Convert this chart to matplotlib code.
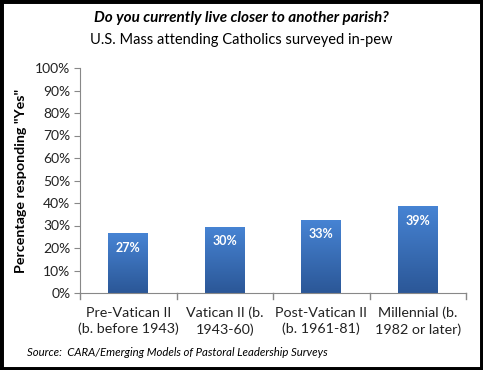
import matplotlib
matplotlib.use("Agg")
import matplotlib.pyplot as plt
import numpy as np
from matplotlib.colors import LinearSegmentedColormap
from matplotlib.patches import Rectangle

categories = ["Pre-Vatican II\n(b. before 1943)", "Vatican II (b.\n1943-60)",
              "Post-Vatican II\n(b. 1961-81)", "Millennial (b.\n1982 or later)"]
values = [26.6, 29.5, 32.6, 38.8]
labels = ["27%", "30%", "33%", "39%"]
yticks = list(range(0, 101, 10))

plt.rcParams['font.family'] = ['Lato', 'DejaVu Sans']
W, H = 483, 370
fig = plt.figure(figsize=(W/100, H/100), dpi=100)
ax = fig.add_axes([80/W, 1-293/H, 386/W, 225/H])

x = np.arange(len(categories))
bars = ax.bar(x, values, width=0.41, color='none', edgecolor='none', zorder=2)
cmap = LinearSegmentedColormap.from_list('g', ['#2b5797', '#4784d4'])
grad = np.linspace(0, 1, 256).reshape(-1, 1)
for b in bars:
    bx, by = b.get_x(), b.get_y()
    bw, bh = b.get_width(), b.get_height()
    im = ax.imshow(grad, cmap=cmap, aspect='auto', origin='lower',
                   extent=[bx, bx+bw, by, by+bh], zorder=2)
    im.set_clip_path(b)

for xi, v, lab in zip(x, values, labels):
    ax.text(xi, v - 6.6, lab, ha='center', va='center', color='white',
            fontsize=9, fontweight='bold', zorder=3)

ax.set_xlim(-0.5, len(categories) - 0.5)
ax.set_ylim(0, 100)
ax.set_yticks(yticks)
ax.set_yticklabels([f"{t}%" for t in yticks], fontsize=10, color='#222222')
ax.set_xticks(x)
ax.set_xticklabels(categories, fontsize=10.3, color='#222222', linespacing=1.35)
ax.tick_params(axis='x', length=0, pad=10)
ax.tick_params(axis='y', length=4, color='#888888', direction='out', pad=3)
for b in np.arange(-0.5, len(categories), 1.0):
    ax.plot([b, b], [0, -2.5], color='#888888', lw=1, clip_on=False, zorder=1)
for s in ['top', 'right']:
    ax.spines[s].set_visible(False)
for s in ['left', 'bottom']:
    ax.spines[s].set_color('#888888')
ax.set_ylabel('Percentage responding "Yes"', fontsize=10.3, fontweight='bold',
              color='black', labelpad=6)

fig.text(0.5, 1-18/H, "Do you currently live closer to another parish?",
         ha='center', va='center', fontsize=11, fontweight='bold', style='italic')
fig.text(0.5, 1-40/H, "U.S. Mass attending Catholics surveyed in-pew",
         ha='center', va='center', fontsize=10.5)
fig.text(27/W, 1-353/H, "Source:  CARA/Emerging Models of Pastoral Leadership Surveys",
         ha='left', va='center', fontsize=8.2, style='italic')

fig.patches.append(Rectangle((0, 0), 1, 1, transform=fig.transFigure,
                             fill=False, edgecolor='black', lw=5))
fig.savefig("out.png", dpi=100)
